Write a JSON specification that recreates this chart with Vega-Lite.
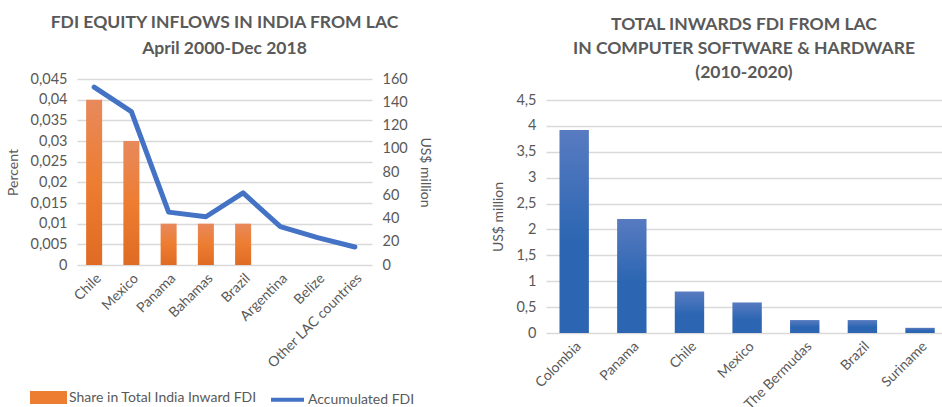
{
  "$schema": "https://vega.github.io/schema/vega-lite/v6.json",
  "autosize": {"type": "pad"},
  "padding": {"left": 6, "top": 13, "right": 0, "bottom": 0},
  "background": "white",
  "config": {
    "locale": {"number": {"decimal": ",", "thousands": ".", "grouping": [3], "currency": ["", " €"]}},
    "font": "Lato",
    "view": {"stroke": null},
    "axis": {"labelColor": "#595959", "titleColor": "#595959", "labelFontSize": 14, "titleFontSize": 14, "titleFontWeight": "normal", "gridColor": "#D9D9D9", "gridWidth": 1.5, "domain": false, "ticks": false, "labelPadding": 10, "titlePadding": 10},
    "axisY": {"labelFontSize": 14.5},
    "title": {"fontSize": 17.5, "fontWeight": "bold", "color": "#595959", "font": "Lato"},
    "legend": {"labelColor": "#595959", "labelFontSize": 14, "labelFont": "Lato", "labelLimit": 400},
    "concat": {"spacing": 59}
  },
  "hconcat": [
    {
      "title": {"text": ["FDI EQUITY INFLOWS IN INDIA FROM LAC", "April 2000-Dec 2018"], "lineHeight": 26, "offset": 14},
      "width": 295,
      "height": 186,
      "data": {"values": [
        {"country": "Chile", "share": 0.04, "fdi": 153},
        {"country": "Mexico", "share": 0.03, "fdi": 132},
        {"country": "Panama", "share": 0.01, "fdi": 45.5},
        {"country": "Bahamas", "share": 0.01, "fdi": 41.5},
        {"country": "Brazil", "share": 0.01, "fdi": 62},
        {"country": "Argentina", "share": 0, "fdi": 33},
        {"country": "Belize", "share": 0, "fdi": 23.5},
        {"country": "Other LAC countries", "share": 0, "fdi": 15.5}
      ]},
      "encoding": {
        "x": {"field": "country", "type": "nominal", "sort": null, "scale": {"paddingInner": 0.57, "paddingOuter": 0.245}, "axis": {"title": null, "labelAngle": -45, "grid": false, "labelPadding": 6}}
      },
      "layer": [
        {
          "mark": {"type": "bar", "fill": {"gradient": "linear", "x1": 0, "y1": 0, "x2": 0, "y2": 1, "stops": [{"offset": 0, "color": "#E8895C"}, {"offset": 0.5, "color": "#ED7D31"}, {"offset": 1, "color": "#E06B24"}]}},
          "encoding": {
            "y": {"field": "share", "type": "quantitative", "scale": {"domain": [0, 0.045]}, "axis": {"title": "Percent", "values": [0, 0.005, 0.01, 0.015, 0.02, 0.025, 0.03, 0.035, 0.04, 0.045], "format": "~g"}}
          }
        },
        {
          "mark": {"type": "line", "strokeWidth": 5, "strokeCap": "round", "strokeJoin": "round"},
          "encoding": {
            "y": {"field": "fdi", "type": "quantitative", "scale": {"domain": [0, 160]}, "axis": {"orient": "right", "title": "US$ million", "titleAngle": 90, "values": [0, 20, 40, 60, 80, 100, 120, 140, 160], "grid": false}},
            "color": {"datum": "Accumulated FDI", "scale": {"domain": ["Share in Total India Inward FDI", "Accumulated FDI"], "range": ["#ED7D31", "#4472C4"]}, "legend": {
              "title": null, "orient": "none", "legendX": -47, "legendY": 300, "direction": "horizontal", "symbolSize": 1089, "columnPadding": 6, "labelOffset": 2,
              "encode": {"symbols": {"update": {
                "shape": {"signal": "datum.value === 'Accumulated FDI' ? 'stroke' : 'M-1,-0.27H1V0.27H-1Z'"},
                "fill": {"signal": "datum.value === 'Accumulated FDI' ? 'transparent' : '#ED7D31'"},
                "stroke": {"signal": "datum.value === 'Accumulated FDI' ? '#4472C4' : 'transparent'"},
                "strokeWidth": {"value": 4},
                "opacity": {"value": 1}
              }}}
            }}
          }
        }
      ],
      "resolve": {"scale": {"y": "independent"}}
    },
    {
      "title": {"text": ["TOTAL INWARDS FDI FROM LAC", "IN COMPUTER SOFTWARE & HARDWARE", "(2010-2020)"], "lineHeight": 24, "offset": -2},
      "width": 396,
      "height": 254,
      "data": {"values": [
        {"country": "Colombia", "value": 3.92},
        {"country": "Panama", "value": 2.2},
        {"country": "Chile", "value": 0.8},
        {"country": "Mexico", "value": 0.59},
        {"country": "The Bermudas", "value": 0.25},
        {"country": "Brazil", "value": 0.25},
        {"country": "Suriname", "value": 0.1}
      ]},
      "mark": {"type": "bar", "fill": {"gradient": "linear", "x1": 0, "y1": 0, "x2": 0, "y2": 1, "stops": [{"offset": 0, "color": "#587BC1"}, {"offset": 0.55, "color": "#2C66B2"}, {"offset": 1, "color": "#2C66B2"}]}},
      "encoding": {
        "x": {"field": "country", "type": "nominal", "sort": null, "scale": {"paddingInner": 0.49, "paddingOuter": 0.18, "align": 0.65}, "axis": {"title": null, "labelAngle": -45, "grid": false, "labelPadding": 6}},
        "y": {"field": "value", "type": "quantitative", "scale": {"domain": [0, 4.5], "range": [254, 21]}, "axis": {"title": "US$ million", "values": [0, 0.5, 1, 1.5, 2, 2.5, 3, 3.5, 4, 4.5], "format": "~g"}}
      }
    }
  ]
}
